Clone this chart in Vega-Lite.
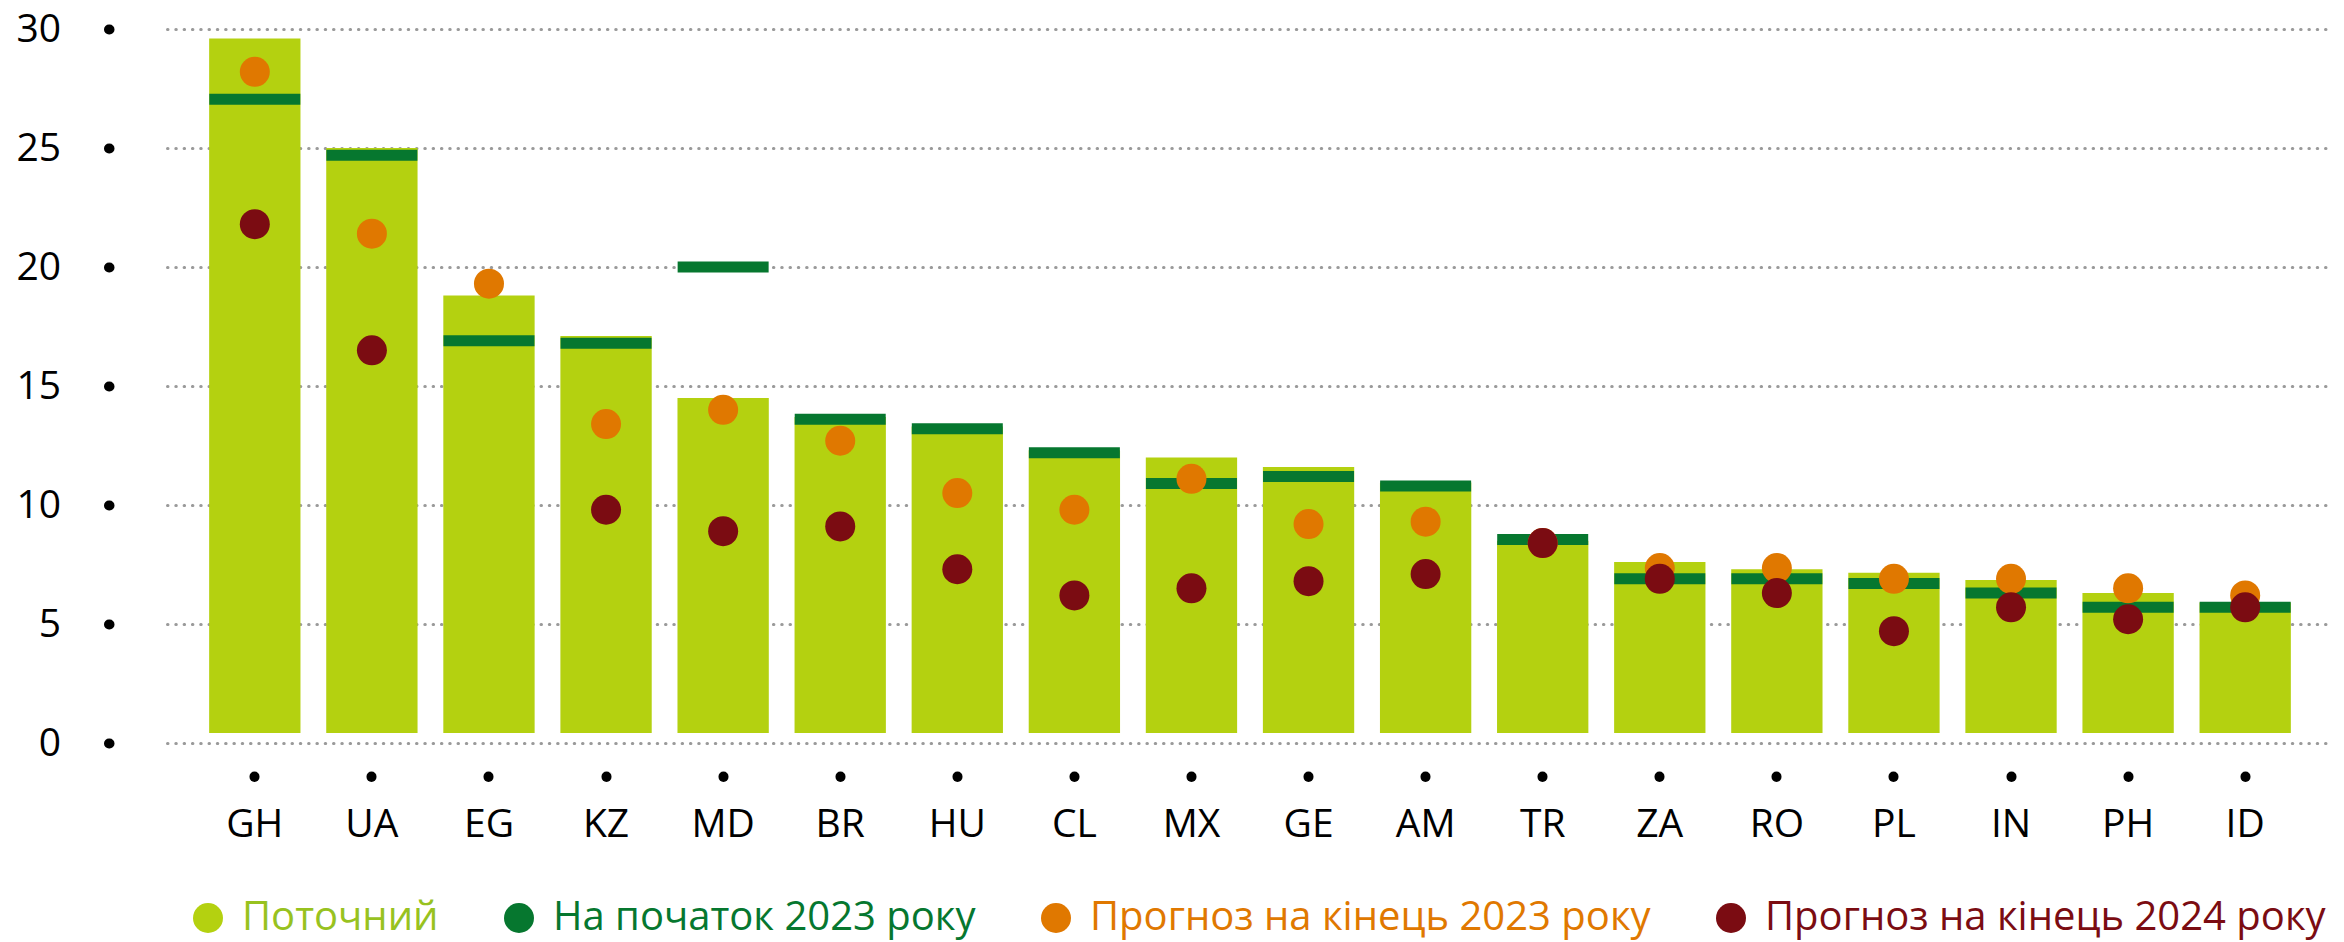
{
  "$schema": "https://vega.github.io/schema/vega-lite/v6.json",
  "width": 2166,
  "height": 714,
  "autosize": "none",
  "padding": {"left": 167, "top": 29, "right": 11, "bottom": 199},
  "background": "white",
  "config": {"view": {"stroke": null}, "font": "Open Sans"},
  "data": {
    "values": [
      {"country": "GH", "current": 29.6, "start2023": 27.05, "f2023": 28.2, "f2024": 21.8},
      {"country": "UA", "current": 25.0, "start2023": 24.7, "f2023": 21.4, "f2024": 16.5},
      {"country": "EG", "current": 18.8, "start2023": 16.9, "f2023": 19.3, "f2024": null},
      {"country": "KZ", "current": 17.1, "start2023": 16.8, "f2023": 13.4, "f2024": 9.8},
      {"country": "MD", "current": 14.5, "start2023": 20.0, "f2023": 14.0, "f2024": 8.9},
      {"country": "BR", "current": 13.7, "start2023": 13.6, "f2023": 12.7, "f2024": 9.1},
      {"country": "HU", "current": 13.3, "start2023": 13.2, "f2023": 10.5, "f2024": 7.3},
      {"country": "CL", "current": 12.3, "start2023": 12.2, "f2023": 9.8, "f2024": 6.2},
      {"country": "MX", "current": 12.0, "start2023": 10.9, "f2023": 11.1, "f2024": 6.5},
      {"country": "GE", "current": 11.6, "start2023": 11.2, "f2023": 9.2, "f2024": 6.8},
      {"country": "AM", "current": 10.95, "start2023": 10.8, "f2023": 9.3, "f2024": 7.1},
      {"country": "TR", "current": 8.5, "start2023": 8.55, "f2023": 8.4, "f2024": 8.4},
      {"country": "ZA", "current": 7.6, "start2023": 6.9, "f2023": 7.35, "f2024": 6.9},
      {"country": "RO", "current": 7.3, "start2023": 6.9, "f2023": 7.35, "f2024": 6.3},
      {"country": "PL", "current": 7.15, "start2023": 6.7, "f2023": 6.9, "f2024": 4.7},
      {"country": "IN", "current": 6.85, "start2023": 6.3, "f2023": 6.9, "f2024": 5.7},
      {"country": "PH", "current": 6.3, "start2023": 5.7, "f2023": 6.5, "f2024": 5.2},
      {"country": "ID", "current": 5.9, "start2023": 5.7, "f2023": 6.2, "f2024": 5.7}
    ]
  },
  "encoding": {
    "x": {
      "field": "country",
      "type": "nominal",
      "sort": null,
      "scale": {"paddingInner": 0.22, "paddingOuter": 0.36},
      "axis": {
        "title": null,
        "domain": false,
        "grid": false,
        "labelAngle": 0,
        "labelFont": "Open Sans",
        "labelFontSize": 39,
        "labelColor": "#000000",
        "offset": 33,
        "tickSize": 0.5,
        "tickWidth": 10,
        "tickCap": "round",
        "tickColor": "#000000",
        "labelPadding": 29
      }
    }
  },
  "layer": [
    {
      "mark": {"type": "bar"},
      "encoding": {
        "y": {
          "field": "current",
          "type": "quantitative",
          "scale": {"domain": [0, 30], "nice": false},
          "axis": {
            "title": null,
            "domain": false,
            "values": [0, 5, 10, 15, 20, 25, 30],
            "offset": 58,
            "tickSize": 0.5,
            "tickWidth": 10,
            "tickCap": "round",
            "tickColor": "#000000",
            "labelPadding": 48,
            "labelFont": "Open Sans",
            "labelFontSize": 39,
            "labelColor": "#000000",
            "grid": true,
            "gridDash": [0.5, 7.8],
            "gridCap": "round",
            "gridWidth": 3,
            "gridColor": "#9a9a9a"
          }
        },
        "y2": {"datum": 0.42},
        "color": {
          "datum": "Поточний",
          "type": "nominal",
          "scale": {
            "domain": ["Поточний", "На початок 2023 року", "Прогноз на кінець 2023 року", "Прогноз на кінець 2024 року"],
            "range": ["#B4D110", "#06772F", "#E07800", "#7B0C12"]
          },
          "legend": {
            "title": null,
            "orient": "none",
            "direction": "horizontal",
            "legendX": 21,
            "legendY": 869,
            "padding": 0,
            "symbolType": "circle",
            "symbolSize": 900,
            "symbolStrokeWidth": 0,
            "symbolOpacity": 1,
            "labelFont": "Open Sans",
            "labelFontSize": 40,
            "labelOffset": 14,
            "labelLimit": 1000,
            "columnPadding": 60,
            "encode": {
              "symbols": {"update": {"fill": {"signal": "datum.value === 'Поточний' ? '#98C21F' : scale('color', datum.value)"}, "stroke": {"value": "transparent"}}},
              "labels": {"update": {"fill": {"signal": "datum.value === 'Поточний' ? '#98C21F' : scale('color', datum.value)"}}}
            }
          }
        }
      }
    },
    {
      "mark": {"type": "tick", "thickness": 11, "size": 91, "orient": "horizontal", "opacity": 1},
      "encoding": {
        "y": {"field": "start2023", "type": "quantitative", "title": null},
        "color": {"datum": "На початок 2023 року", "type": "nominal"}
      }
    },
    {
      "mark": {"type": "circle", "size": 900, "opacity": 1},
      "encoding": {
        "y": {"field": "f2023", "type": "quantitative", "title": null},
        "color": {"datum": "Прогноз на кінець 2023 року", "type": "nominal"}
      }
    },
    {
      "mark": {"type": "circle", "size": 900, "opacity": 1},
      "encoding": {
        "y": {"field": "f2024", "type": "quantitative", "title": null},
        "color": {"datum": "Прогноз на кінець 2024 року", "type": "nominal"}
      }
    }
  ]
}
